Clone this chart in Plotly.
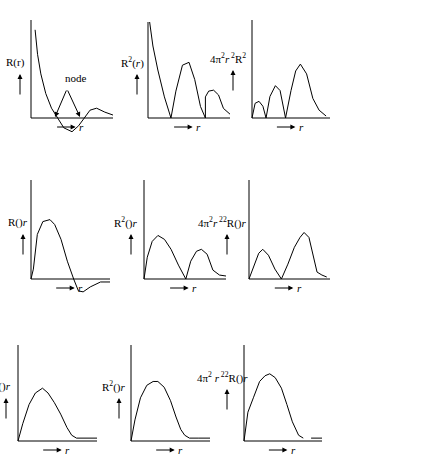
import plotly.graph_objects as go

# panel curves: u = fraction of x-axis length, v = fraction of axis height above baseline
r1_u = [0.05, 0.08, 0.12, 0.18, 0.25, 0.32, 0.40, 0.50, 0.58, 0.65, 0.72, 0.80, 0.90, 1.0]
r1_v = [0.90, 0.65, 0.45, 0.25, 0.10, 0.0, -0.10, -0.14, -0.08, 0.0, 0.08, 0.10, 0.06, 0.03]

r2_u = [0.02, 0.06, 0.12, 0.20, 0.28, 0.34, 0.42, 0.50, 0.57, 0.64, 0.70, 0.70, 0.74, 0.80, 0.86, 0.92, 1.0]
r2_v = [1.00, 0.75, 0.50, 0.22, 0.0, 0.28, 0.55, 0.58, 0.40, 0.12, 0.0, 0.22, 0.28, 0.29, 0.24, 0.10, 0.04]

r3_u = [0.0, 0.04, 0.09, 0.14, 0.18, 0.23, 0.30, 0.36, 0.43, 0.50, 0.56, 0.62, 0.70, 0.78, 0.86, 0.95]
r3_v = [0.0, 0.15, 0.17, 0.12, 0.0, 0.22, 0.33, 0.28, 0.0, 0.28, 0.48, 0.55, 0.45, 0.20, 0.08, 0.02]

s1_u = [0.0, 0.03, 0.08, 0.15, 0.24, 0.30, 0.38, 0.46, 0.54, 0.60, 0.66, 0.75, 0.88, 1.0]
s1_v = [0.0, 0.10, 0.45, 0.58, 0.60, 0.55, 0.40, 0.18, 0.0, -0.12, -0.13, -0.08, -0.03, -0.03]

s2_u = [0.0, 0.04, 0.10, 0.17, 0.25, 0.33, 0.42, 0.51, 0.57, 0.64, 0.70, 0.77, 0.84, 0.92, 1.0]
s2_v = [0.0, 0.22, 0.38, 0.44, 0.40, 0.30, 0.14, 0.0, 0.18, 0.28, 0.30, 0.25, 0.09, 0.04, 0.03]

s3_u = [0.0, 0.06, 0.12, 0.17, 0.24, 0.32, 0.40, 0.48, 0.56, 0.63, 0.68, 0.74, 0.80, 0.84, 0.90, 0.96]
s3_v = [0.0, 0.14, 0.26, 0.30, 0.24, 0.10, 0.0, 0.15, 0.32, 0.42, 0.47, 0.42, 0.20, 0.07, 0.04, 0.02]

t1_u = [0.0, 0.06, 0.14, 0.22, 0.31, 0.38, 0.46, 0.54, 0.62, 0.68, 0.74, 0.85, 1.0]
t1_v = [0.0, 0.18, 0.38, 0.50, 0.55, 0.50, 0.40, 0.28, 0.14, 0.06, 0.03, 0.03, 0.03]

t2_u = [0.0, 0.05, 0.12, 0.20, 0.28, 0.34, 0.42, 0.50, 0.57, 0.63, 0.68, 0.74, 0.85, 1.0]
t2_v = [0.0, 0.22, 0.45, 0.58, 0.62, 0.62, 0.56, 0.42, 0.25, 0.12, 0.06, 0.03, 0.03, 0.03]

t3_u = [0.0, 0.05, 0.12, 0.20, 0.27, 0.33, 0.40, 0.48, 0.55, 0.62, 0.70, 0.76, None, 0.86, 1.0]
t3_v = [0.0, 0.30, 0.45, 0.62, 0.68, 0.70, 0.66, 0.55, 0.38, 0.20, 0.06, 0.03, None, 0.03, 0.03]

# panel frames: (x of y-axis, top, baseline, right end), pixels
panels = [
    (31, 20, 118, 113, r1_u, r1_v, "R(r)", 15, 62),
    (148, 22, 118, 230, r2_u, r2_v, "R<sup>2</sup>(<i>r</i>)", 132, 62),
    (252, 20, 118, 330, r3_u, r3_v, "4π<sup>2</sup><i>r</i><sup> 2</sup>R<sup>2</sup>", 228, 58),
    (31, 180, 279, 110, s1_u, s1_v, "R()<i>r</i>", 18, 222),
    (144, 180, 279, 226, s2_u, s2_v, "R<sup>2</sup>()<i>r</i>", 126, 222),
    (249, 180, 279, 330, s3_u, s3_v, "4π<sup>2</sup><i>r</i><sup> 22</sup>R()<i>r</i>", 222, 222),
    (18, 345, 441, 97, t1_u, t1_v, "R()<i>r</i>", 1, 386),
    (131, 345, 441, 210, t2_u, t2_v, "R<sup>2</sup>()<i>r</i>", 114, 386),
    (244, 345, 441, 322, t3_u, t3_v, "4π<sup>2</sup> <i>r</i><sup> 22</sup>R()<i>r</i>", 222, 377),
]

fig = go.Figure()
ann = []
line = dict(color="black", width=1)
arrow = dict(text="", showarrow=True, arrowhead=2, arrowsize=1, arrowwidth=1,
             arrowcolor="black", axref="x", ayref="y")
for x0, top, base, right, us, vs, label, lx, ly in panels:
    h = base - top
    w = right - x0
    fig.add_trace(go.Scatter(x=[x0, x0, right], y=[top, base, base], mode="lines", line=line))
    xs = [None if u is None else x0 + u * w for u in us]
    ys = [None if v is None else base - v * h for v in vs]
    fig.add_trace(go.Scatter(x=xs, y=ys, mode="lines", line=line, connectgaps=False))
    ann.append(dict(x=lx, y=ly, text=label, showarrow=False, font=dict(size=11)))
    # up arrow
    ann.append(dict(x=lx + 5, y=ly + 12, ax=lx + 5, ay=ly + 34, **arrow))
    # right arrow and r
    ax0 = x0 + w * 0.3
    ann.append(dict(x=ax0 + 20, y=base + 9, ax=ax0, ay=base + 9, **arrow))
    ann.append(dict(x=ax0 + 26, y=base + 9, text="<i>r</i>", showarrow=False, font=dict(size=11)))

# node annotation
ann.append(dict(x=76, y=78, text="node", showarrow=False, font=dict(size=11)))
for tx in (55, 80):
    ann.append(dict(x=tx, y=117, ax=67, ay=89, **arrow))

fig.update_layout(
    width=430, height=462, margin=dict(l=0, r=0, t=0, b=0),
    plot_bgcolor="white", paper_bgcolor="white", showlegend=False,
    font=dict(family="Liberation Serif", color="black"),
    xaxis=dict(range=[0, 430], visible=False, fixedrange=True),
    yaxis=dict(range=[462, 0], visible=False, fixedrange=True),
    annotations=ann,
)
fig.write_html("out.html", config={"displayModeBar": False},
               post_script="document.body.style.margin='0';document.body.style.overflow='hidden';")
